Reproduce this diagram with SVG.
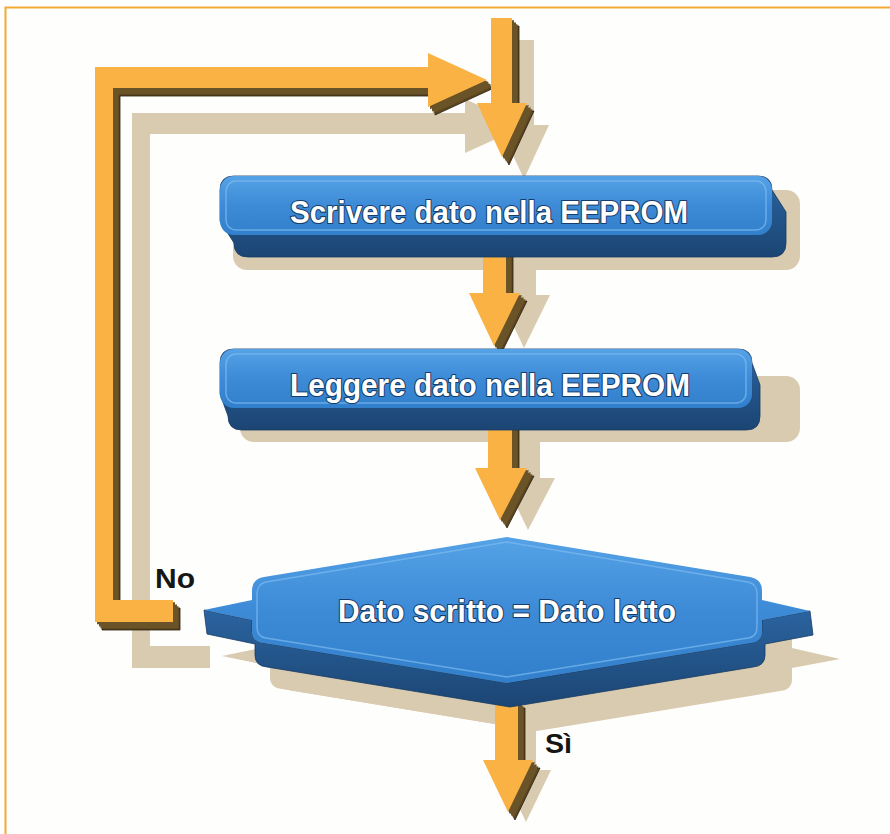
<svg xmlns="http://www.w3.org/2000/svg" xmlns:xlink="http://www.w3.org/1999/xlink" width="890" height="834" viewBox="0 0 890 834">
  <style>
    .orange { fill: #fbb244; }
    .ext { fill: #6a5327; }
    .extEdge { fill: #5a4520; stroke: #2a1f0c; stroke-width: 0.8; }
    .shadow { fill: #d9cbb0; }
    .face { fill: url(#faceGrad); }
    .faceLine { fill: none; stroke: #7dbaf0; stroke-width: 1.5; opacity: 0.7; }
    .depth { fill: url(#depthGrad); stroke: #163a63; stroke-width: 0.8; }
    .lbl { font-family: "Liberation Sans", Arial, sans-serif; font-weight: bold; font-size: 31px; fill: #ffffff; stroke: #173d6b; stroke-width: 2.2; paint-order: stroke; stroke-linejoin: round; }
    .tag { font-family: "Liberation Sans", Arial, sans-serif; font-weight: bold; font-size: 28px; fill: #161616; }
  </style>
  <defs>
    <linearGradient id="faceGrad" x1="0" y1="0" x2="0" y2="1">
      <stop offset="0" stop-color="#55a2e6"/>
      <stop offset="0.5" stop-color="#3d8bd7"/>
      <stop offset="1" stop-color="#3280cc"/>
    </linearGradient>
    <linearGradient id="depthGrad" x1="0" y1="0" x2="0" y2="1">
      <stop offset="0" stop-color="#2b64a0"/>
      <stop offset="1" stop-color="#1b4573"/>
    </linearGradient>

    <!-- arrow outlines -->
    <path id="loopArrow" d="M95,67 H428 V53 L487,80 L428,107 V88 H113 V600 H173 V622 H95 Z"/>
    <path id="downTop" d="M491,18 H512 V103 H527 L502,157 L477,103 H491 Z"/>
    <path id="down2" d="M483,245 H506 V293 H520 L494,346 L469,293 H483 Z"/>
    <path id="down3" d="M488,420 H512 V468 H527 L500,520 L475,468 H488 Z"/>
    <path id="downSi" d="M495,700 H518 V760 H533 L508,812 L483,760 H495 Z"/>

    <!-- decision outline -->
    <path id="diam" d="M507,537 L264,577 Q252,579 252,591 L252,600 L204,610 L252,620 L252,631 Q252,642 264,643 L507,683 L750,643 Q762,642 762,631 L762,620 L810,611 L762,600 L762,591 Q762,579 750,577 Z"/>
  </defs>

  <!-- frame -->
  <rect x="0" y="0" width="890" height="834" fill="#fefefc"/>
  <path d="M5.5,834 V7.5 H890" fill="none" stroke="#f4a934" stroke-width="2"/>

  <!-- cast shadows on the page -->
  <g id="shadows">
    <use xlink:href="#loopArrow" class="shadow" transform="translate(37,46)"/>
    <use xlink:href="#downTop" class="shadow" transform="translate(22,22)"/>
    <use xlink:href="#down2" class="shadow" transform="translate(30,2)"/>
    <use xlink:href="#down3" class="shadow" transform="translate(28,10)"/>
    <use xlink:href="#downSi" class="shadow" transform="translate(18,10)"/>
    <rect class="shadow" x="233" y="190" width="567" height="80" rx="14"/>
    <rect class="shadow" x="240" y="376" width="560" height="66" rx="14"/>
    <use xlink:href="#diam" class="shadow" transform="translate(18,46)"/>
    <use xlink:href="#diam" class="shadow" transform="translate(30,48)"/>
  </g>

  <!-- connectors -->
  <g id="connectors">
    <g id="loop-no">
      <use xlink:href="#loopArrow" class="extEdge" transform="translate(7,8)"/>
      <use xlink:href="#loopArrow" class="ext" transform="translate(2,2.3)"/>
      <use xlink:href="#loopArrow" class="ext" transform="translate(4,4.6)"/>
      <use xlink:href="#loopArrow" class="ext" transform="translate(5.5,6.3)"/>
      <use xlink:href="#loopArrow" class="orange"/>
    </g>
    <g id="arrow-start">
      <use xlink:href="#downTop" class="extEdge" transform="translate(7,8)"/>
      <use xlink:href="#downTop" class="ext" transform="translate(2,2.3)"/>
      <use xlink:href="#downTop" class="ext" transform="translate(4,4.6)"/>
      <use xlink:href="#downTop" class="ext" transform="translate(5.5,6.3)"/>
      <use xlink:href="#downTop" class="orange"/>
    </g>
    <g id="arrow-write-read">
      <use xlink:href="#down2" class="extEdge" transform="translate(7,8)"/>
      <use xlink:href="#down2" class="ext" transform="translate(2,2.3)"/>
      <use xlink:href="#down2" class="ext" transform="translate(4,4.6)"/>
      <use xlink:href="#down2" class="ext" transform="translate(5.5,6.3)"/>
      <use xlink:href="#down2" class="orange"/>
    </g>
    <g id="arrow-read-check">
      <use xlink:href="#down3" class="extEdge" transform="translate(7,8)"/>
      <use xlink:href="#down3" class="ext" transform="translate(2,2.3)"/>
      <use xlink:href="#down3" class="ext" transform="translate(4,4.6)"/>
      <use xlink:href="#down3" class="ext" transform="translate(5.5,6.3)"/>
      <use xlink:href="#down3" class="orange"/>
    </g>
    <g id="arrow-si">
      <use xlink:href="#downSi" class="extEdge" transform="translate(7,8)"/>
      <use xlink:href="#downSi" class="ext" transform="translate(2,2.3)"/>
      <use xlink:href="#downSi" class="ext" transform="translate(4,4.6)"/>
      <use xlink:href="#downSi" class="ext" transform="translate(5.5,6.3)"/>
      <use xlink:href="#downSi" class="orange"/>
    </g>
    <text class="tag" x="155" y="588" textLength="40" lengthAdjust="spacingAndGlyphs">No</text>
    <text class="tag" x="545" y="753" textLength="27" lengthAdjust="spacingAndGlyphs">Sì</text>
  </g>

  <!-- process: write -->
  <g id="node-write">
    <path class="depth" d="M234,176 H758 Q772,176 772,190 L786,212 V243 Q786,257 772,257 H248 Q234,257 234,243 L220,221 V190 Q220,176 234,176 Z"/>
    <rect class="face" x="220" y="176" width="552" height="59" rx="14"/>
    <rect class="faceLine" x="226" y="181" width="540" height="49" rx="10"/>
    <text class="lbl" x="290" y="223" textLength="398" lengthAdjust="spacingAndGlyphs">Scrivere dato nella EEPROM</text>
  </g>

  <!-- process: read -->
  <g id="node-read">
    <path class="depth" d="M234,349 H738 Q752,349 752,363 L760,385 V416 Q760,430 746,430 H242 Q228,430 228,416 L220,394 V363 Q220,349 234,349 Z"/>
    <rect class="face" x="220" y="349" width="532" height="59" rx="14"/>
    <rect class="faceLine" x="226" y="354" width="520" height="49" rx="10"/>
    <text class="lbl" x="290" y="396" textLength="400" lengthAdjust="spacingAndGlyphs">Leggere dato nella EEPROM</text>
  </g>

  <!-- decision -->
  <g id="node-check">
    <path class="depth" d="M204,610 L252,620 L252,631 Q252,642 264,643 L507,683 L750,643 Q762,642 762,631 L762,620 L810,611 L813,635 L765,644 L765,655 Q765,666 753,667 L510,707 L267,667 Q255,666 255,655 L255,644 L207,634 Z"/>
    <use xlink:href="#diam" class="face"/>
    <path class="faceLine" d="M507,542 L266,582 Q257,584 257,594 L257,627 Q257,637 266,638 L507,677 L748,638 Q757,637 757,627 L757,594 Q757,584 748,582 Z"/>
    <text class="lbl" x="338" y="622" textLength="338" lengthAdjust="spacingAndGlyphs">Dato scritto = Dato letto</text>
  </g>
</svg>
